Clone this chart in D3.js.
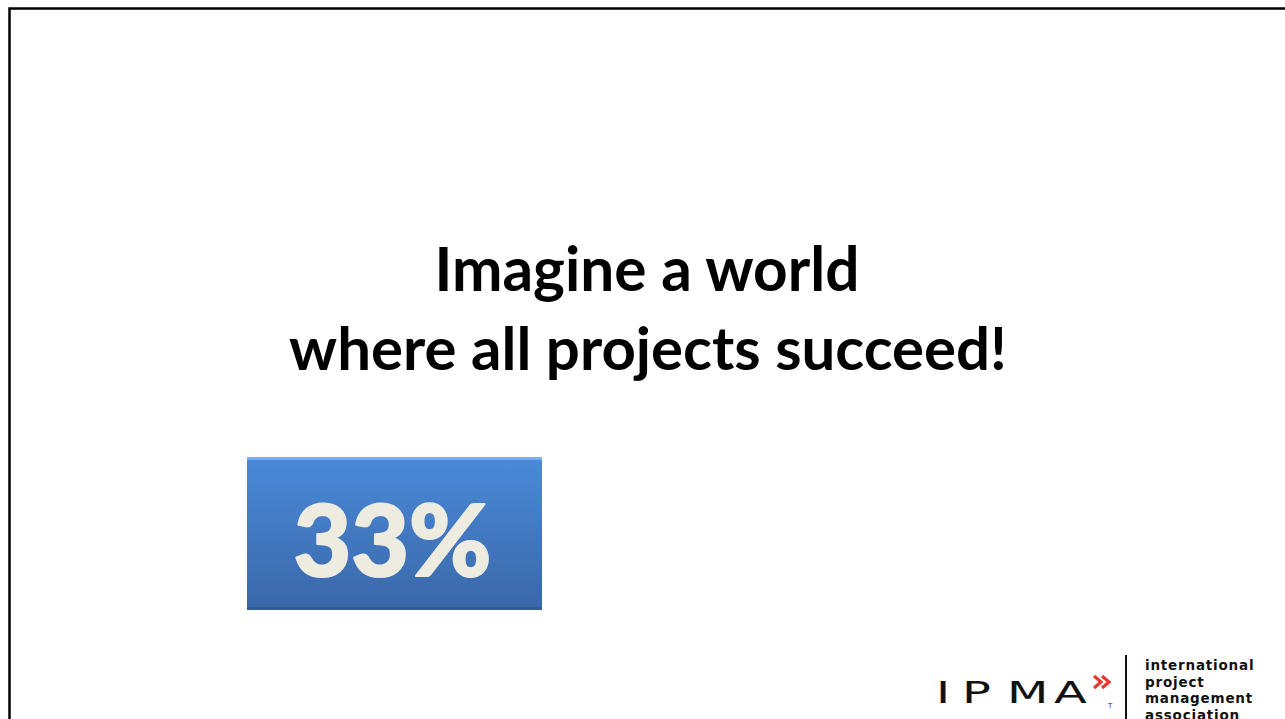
<!DOCTYPE html>
<html>
<head>
<meta charset="utf-8">
<script src="https://cdn.jsdelivr.net/npm/d3@7"></script>
<style>
  html, body { margin: 0; padding: 0; background: #fff; overflow: hidden; }
  svg { display: block; }
</style>
</head>
<body>
<svg id="chart" width="1285" height="719"></svg>
<script>
// Slide content
const titleLines = ["Imagine a world", "where all projects succeed!"];
const categories = ["Successful projects"];
const values = [33];
const valueSuffix = "%";
const logoWord = ["I", "P", "M", "A"];
const logoLines = ["international", "project", "management", "association"];

const W = 1285, H = 719;
const svg = d3.select("#chart");

// Slide frame (top and left edges visible)
svg.append("rect")
  .attr("x", 9.5).attr("y", 8.5)
  .attr("width", W + 20).attr("height", H + 20)
  .attr("fill", "#fff")
  .attr("stroke", "#000")
  .attr("stroke-width", 2.5);

// Title, each line fitted to its measured width
const titleSpec = [
  { cx: 647, y: 291, w: 425 },
  { cx: 648, y: 370, w: 718 }
];
titleLines.forEach((t, i) => {
  const s = titleSpec[i];
  const txt = svg.append("text")
    .attr("x", s.cx).attr("y", s.y)
    .attr("text-anchor", "middle")
    .attr("font-family", "Lato, 'Open Sans', sans-serif")
    .attr("font-weight", 700)
    .attr("font-size", 52)
    .attr("fill", "#000")
    .text(t);
  const len = txt.node().getComputedTextLength();
  txt.attr("font-size", 52 * s.w / len);
});

// Value box
const defs = svg.append("defs");
const grad = defs.append("linearGradient")
  .attr("id", "boxFill").attr("x1", 0).attr("y1", 0).attr("x2", 0).attr("y2", 1);
grad.append("stop").attr("offset", "0%").attr("stop-color", "#4a8ad9");
grad.append("stop").attr("offset", "100%").attr("stop-color", "#3a67a8");

const x = d3.scaleBand().domain(categories).range([247, 542]).padding(0);
const boxTop = 457, boxBottom = 610;

const g = svg.append("g");
g.selectAll("rect.box")
  .data(categories)
  .join("rect")
  .attr("class", "box")
  .attr("x", d => x(d))
  .attr("y", boxTop)
  .attr("width", x.bandwidth())
  .attr("height", boxBottom - boxTop)
  .attr("fill", "url(#boxFill)");

// bevel highlights
g.selectAll("rect.hi")
  .data(categories)
  .join("rect")
  .attr("class", "hi")
  .attr("x", d => x(d)).attr("y", boxTop)
  .attr("width", x.bandwidth()).attr("height", 3)
  .attr("fill", "#7fb2ec").attr("opacity", 0.9);
g.selectAll("rect.sh")
  .data(categories)
  .join("rect")
  .attr("class", "sh")
  .attr("x", d => x(d)).attr("y", boxBottom - 3)
  .attr("width", x.bandwidth()).attr("height", 3)
  .attr("fill", "#2f5a94").attr("opacity", 0.8);

g.selectAll("text.val")
  .data(categories)
  .join("text")
  .attr("class", "val")
  .attr("x", d => x(d) + x.bandwidth() / 2 - 2)
  .attr("y", 576)
  .attr("text-anchor", "middle")
  .attr("font-family", "Lato, 'Open Sans', sans-serif")
  .attr("font-weight", 900)
  .attr("font-size", 100)
  .attr("fill", "#eeebe1")
  .attr("stroke", "#eeebe1")
  .attr("stroke-width", 2.2)
  .attr("stroke-linejoin", "round")
  .text((d, i) => values[i] + valueSuffix)
  .each(function() {
    const len = this.getComputedTextLength();
    d3.select(this).attr("font-size", 100 * 198 / len);
  });

// Logo: wide, thin letters
const logo = svg.append("g");
const letterX = [936, 962, 1007, 1054];
logo.selectAll("text.lw")
  .data(logoWord)
  .join("text")
  .attr("class", "lw")
  .attr("transform", (d, i) => `translate(${letterX[i]},703) scale(1.6,1)`)
  .attr("font-family", "'DejaVu Sans', sans-serif")
  .attr("font-weight", 400)
  .attr("font-size", 30)
  .attr("fill", "#111")
  .text(d => d);
// red chevrons
const chev = d3.line();
[1094, 1102].forEach(a => {
  logo.append("path")
    .attr("d", chev([[a, 676], [a + 7, 682], [a, 688]]))
    .attr("fill", "none").attr("stroke", "#e8392c").attr("stroke-width", 3.2);
});
logo.append("text")
  .attr("x", 1108).attr("y", 708)
  .attr("font-family", "'DejaVu Sans', sans-serif")
  .attr("font-size", 7).attr("fill", "#333")
  .text("T");
logo.append("line")
  .attr("x1", 1126).attr("x2", 1126)
  .attr("y1", 655).attr("y2", 719)
  .attr("stroke", "#111").attr("stroke-width", 2);
logo.selectAll("text.ln")
  .data(logoLines)
  .join("text")
  .attr("class", "ln")
  .attr("x", 1145)
  .attr("y", (d, i) => 670 + i * 16.5)
  .attr("font-family", "'DejaVu Sans', sans-serif")
  .attr("font-weight", 700)
  .attr("font-size", 13.5)
  .attr("letter-spacing", 0.8)
  .attr("fill", "#111")
  .text(d => d);
</script>
</body>
</html>
